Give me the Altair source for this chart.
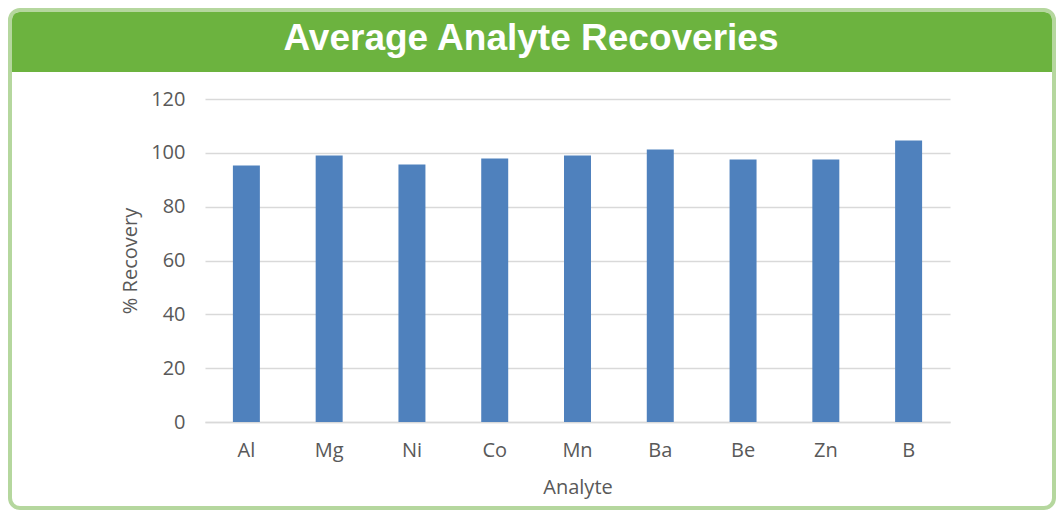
import altair as alt
import pandas as pd

analytes = ["Al", "Mg", "Ni", "Co", "Mn", "Ba", "Be", "Zn", "B"]
recovery = [95.3, 99.0, 95.7, 97.9, 99.0, 101.2, 97.5, 97.5, 104.6]
y_ticks = [0, 20, 40, 60, 80, 100, 120]
title_text = "Average Analyte Recoveries"

df = pd.DataFrame({"Analyte": analytes, "Recovery": recovery})
one = pd.DataFrame({"t": [title_text]})

FONT = "Open Sans"
GRAY = "#595959"

frame = alt.Chart(one).mark_rect(
    filled=False, stroke="#b5d79e", strokeWidth=4, cornerRadius=10
).encode(
    x=alt.value(-195), x2=alt.value(849), y=alt.value(-89), y2=alt.value(409)
)

header = alt.Chart(one).mark_rect(
    fill="#6cb33f", cornerRadiusTopLeft=8, cornerRadiusTopRight=8
).encode(
    x=alt.value(-193), x2=alt.value(847), y=alt.value(-87), y2=alt.value(-27)
)

title = alt.Chart(one).mark_text(
    font="Liberation Sans", fontSize=37, fontWeight="bold", color="white",
    align="center", baseline="alphabetic"
).encode(
    text="t:N", x=alt.value(326), y=alt.value(-49)
)

bars = alt.Chart(df).mark_bar(color="#4f81bd").encode(
    x=alt.X(
        "Analyte:N", sort=analytes,
        scale=alt.Scale(paddingInner=0.674, paddingOuter=0.337),
        axis=alt.Axis(
            title="Analyte", labelAngle=0, ticks=False, tickSize=0,
            domainColor="#d9d9d9", domainWidth=1.5,
            labelFont=FONT, labelFontSize=20, labelColor=GRAY, labelPadding=18,
            titleFont=FONT, titleFontSize=20, titleColor=GRAY,
            titleFontWeight="normal", titlePadding=17,
        ),
    ),
    y=alt.Y(
        "Recovery:Q",
        scale=alt.Scale(domain=[0, 120], nice=False),
        axis=alt.Axis(
            title="% Recovery", values=y_ticks, domain=False, ticks=False, tickSize=0,
            gridColor="#d9d9d9", gridWidth=1.5,
            labelFont=FONT, labelFontSize=20, labelColor=GRAY, labelPadding=20,
            titleFont=FONT, titleFontSize=20, titleColor=GRAY,
            titleFontWeight="normal", titlePadding=10,
        ),
    ),
)

chart = alt.layer(frame, header, bars, title).properties(
    width=745, height=323,
    autosize=alt.AutoSizeParams(type="none"),
    padding={"left": 197, "top": 91, "right": 106, "bottom": 88},
    background="white",
).configure_view(stroke=None)

chart.save("out.html", embed_options={"renderer": "svg", "actions": False})
